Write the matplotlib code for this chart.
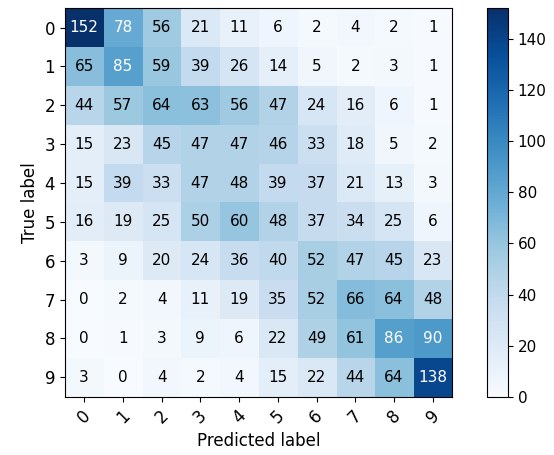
import matplotlib
matplotlib.use('Agg')
import matplotlib.pyplot as plt
import numpy as np

classes = ['0', '1', '2', '3', '4', '5', '6', '7', '8', '9']
cm = np.array([
    [152, 78, 56, 21, 11, 6, 2, 4, 2, 1],
    [65, 85, 59, 39, 26, 14, 5, 2, 3, 1],
    [44, 57, 64, 63, 56, 47, 24, 16, 6, 1],
    [15, 23, 45, 47, 47, 46, 33, 18, 5, 2],
    [15, 39, 33, 47, 48, 39, 37, 21, 13, 3],
    [16, 19, 25, 50, 60, 48, 37, 34, 25, 6],
    [3, 9, 20, 24, 36, 40, 52, 47, 45, 23],
    [0, 2, 4, 11, 19, 35, 52, 66, 64, 48],
    [0, 1, 3, 9, 6, 22, 49, 61, 86, 90],
    [3, 0, 4, 2, 4, 15, 22, 44, 64, 138],
])

fig = plt.figure(figsize=(5.54, 4.55), dpi=100)
ax = fig.add_axes([0.117, 0.128, 0.699, 0.854])
cax = fig.add_axes([0.879, 0.128, 0.038, 0.854])

im = ax.imshow(cm, interpolation='nearest', cmap=plt.cm.Blues, aspect='auto')
cb = fig.colorbar(im, cax=cax)
cb.ax.tick_params(labelsize=11)

ticks = np.arange(len(classes))
ax.set_xticks(ticks)
ax.set_xticklabels(classes, rotation=45, fontsize=12)
ax.set_yticks(ticks)
ax.set_yticklabels(classes, fontsize=12)

thresh = cm.max() / 2.
for i in range(cm.shape[0]):
    for j in range(cm.shape[1]):
        ax.text(j, i, format(cm[i, j], 'd'), ha='center', va='center', fontsize=11,
                color='white' if cm[i, j] > thresh else 'black')

ax.set_ylabel('True label', fontsize=12)
ax.set_xlabel('Predicted label', fontsize=12)

fig.savefig('out.png', dpi=100)
